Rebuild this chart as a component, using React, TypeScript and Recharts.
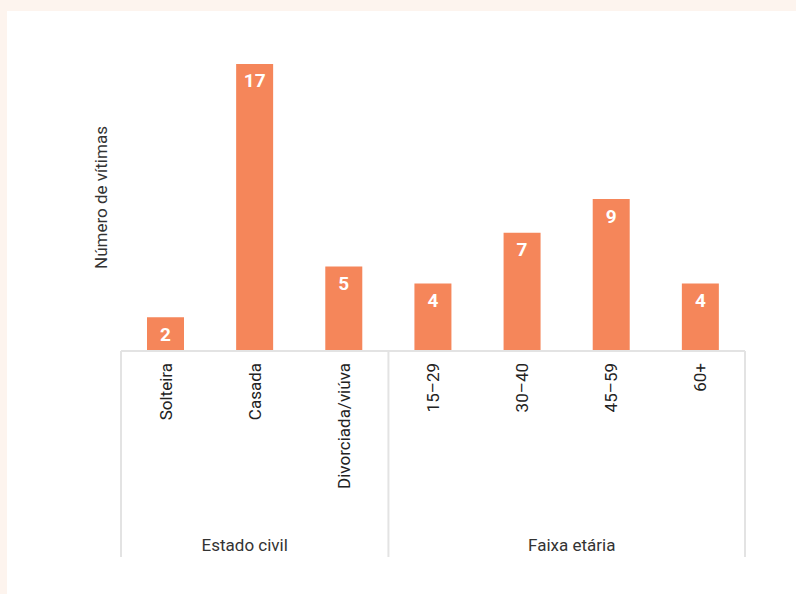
import { BarChart, Bar, XAxis, YAxis, LabelList } from "recharts";

const categories = ["Solteira", "Casada", "Divorciada/viúva", "15–29", "30–40", "45–59", "60+"];
const victims = [2, 17, 5, 4, 7, 9, 4];
const groupNames = ["Estado civil", "Faixa etária"];
// index of the category that starts each group
const groupStarts = [0, 3];

const data = categories.map((name, i) => ({ name, value: victims[i] }));

const FONT = "Roboto, 'Noto Sans', sans-serif";
const LINE = "#e3e3e3";
const TXT = 17;

function GroupTick(props: any) {
  const { x, y, payload } = props;
  const idx = payload.index;
  const half = payload.offset || 0;
  const top = y - 8;
  const lineBottom = top + 206;
  const parts: any[] = [];

  // group boundary lines
  if (groupStarts.includes(idx)) {
    parts.push(
      <line key="l" x1={x - half} x2={x - half} y1={top} y2={lineBottom} stroke={LINE} strokeWidth={2} />
    );
  }
  if (idx === categories.length - 1) {
    parts.push(
      <line key="r" x1={x + half} x2={x + half} y1={top} y2={lineBottom} stroke={LINE} strokeWidth={2} />
    );
  }

  // group titles
  if (idx === 1) {
    parts.push(
      <text key="g0" x={x - 10} y={top + 200} textAnchor="middle" fill="#333" fontSize={TXT} fontFamily={FONT}>
        {groupNames[0]}
      </text>
    );
  }
  if (idx === 4) {
    parts.push(
      <text key="g1" x={x + half + 5} y={top + 200} textAnchor="middle" fill="#333" fontSize={TXT} fontFamily={FONT}>
        {groupNames[1]}
      </text>
    );
  }

  return (
    <g>
      {parts}
      <text
        transform={`translate(${x},${top + 12}) rotate(-90)`}
        textAnchor="end"
        dominantBaseline="central"
        fill="#222"
        fontSize={TXT}
        fontFamily={FONT}
      >
        {payload.value}
      </text>
    </g>
  );
}

function YTitle(props: any) {
  const vb = props.viewBox;
  const cx = vb.x + vb.width / 2;
  const cy = vb.y + vb.height / 2 - 10;
  return (
    <text
      transform={`translate(${cx},${cy}) rotate(-90)`}
      textAnchor="middle"
      dominantBaseline="central"
      fill="#333"
      fontSize={TXT}
      fontFamily={FONT}
    >
      Número de vítimas
    </text>
  );
}

export default function App() {
  return (
    <div
      style={{
        position: "absolute",
        left: 0,
        top: 0,
        width: 796,
        height: 594,
        background: "#fdf4ee",
      }}
    >
      <div
        style={{
          position: "absolute",
          left: 7,
          top: 11,
          width: 789,
          height: 583,
          background: "#ffffff",
        }}
      />
      <div style={{ position: "absolute", left: 0, top: 0 }}>
        <BarChart
          width={796}
          height={594}
          data={data}
          margin={{ top: 64, right: 51, bottom: 37, left: 80 }}
          barCategoryGap={26}
        >
          <XAxis
            dataKey="name"
            interval={0}
            height={206}
            tickLine={false}
            axisLine={{ stroke: LINE, strokeWidth: 2 }}
            tick={<GroupTick />}
          />
          <YAxis
            width={41}
            domain={[0, 17]}
            tick={false}
            axisLine={false}
            tickLine={false}
            label={<YTitle />}
          />
          <Bar dataKey="value" fill="#f5865a" isAnimationActive={false}>
            <LabelList
              dataKey="value"
              position="insideTop"
              offset={10}
              fill="#ffffff"
              fontSize={19}
              fontWeight="bold"
              fontFamily={FONT}
            />
          </Bar>
        </BarChart>
      </div>
    </div>
  );
}
